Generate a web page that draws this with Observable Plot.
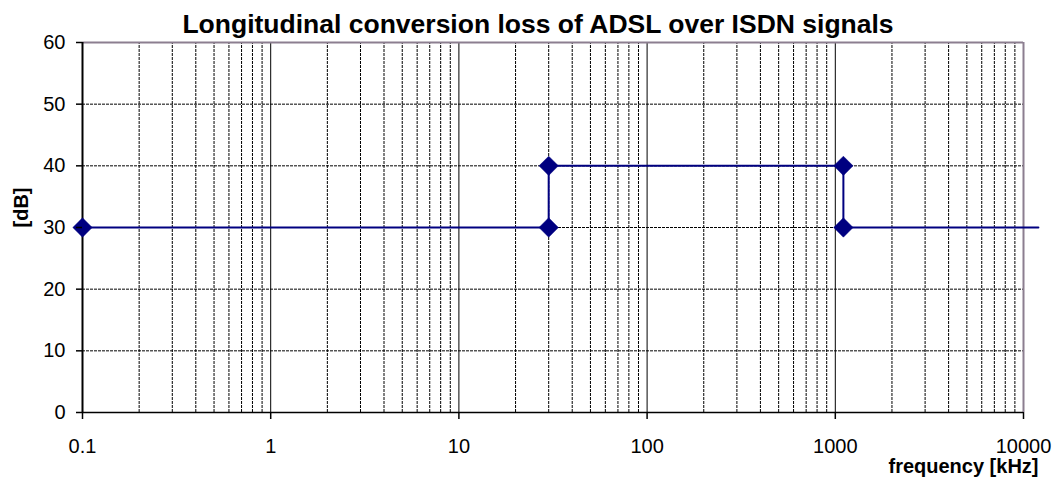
<!DOCTYPE html>
<html>
<head>
<meta charset="utf-8">
<script src="https://cdn.jsdelivr.net/npm/d3@7"></script>
<script src="https://cdn.jsdelivr.net/npm/@observablehq/plot@0.6"></script>
<style>
  html, body { margin: 0; padding: 0; background: #fff; }
  #chart svg { display: block; overflow: visible; }
</style>
</head>
<body>
<div id="chart"></div>
<script>
// ---- data ----
const title = "Longitudinal conversion loss of ADSL over ISDN signals";
const yLabel = "[dB]";
const xLabel = "frequency [kHz]";
const freq = [0.1, 30, 30, 1104, 1104, 12000];
const loss = [30, 30, 40, 40, 30, 30];
const hasMarker = [true, true, true, true, true, false];
const xTicks = [0.1, 1, 10, 100, 1000, 10000];
const xTickLabels = ["0.1", "1", "10", "100", "1000", "10000"];
const yTicks = [0, 10, 20, 30, 40, 50, 60];

const pts = freq.map((f, i) => ({f, v: loss[i], m: hasMarker[i]}));
const decades = xTicks.slice(0, -1);
const minor = [];
for (const d of decades) for (let k = 2; k <= 9; k++) minor.push(+(d * k).toPrecision(6));
const innerMajor = xTicks.slice(1, -1);
const hGrid = yTicks.slice(1, -1);

const navy = "#000080";
const border = "#8c7e90";

const chart = Plot.plot({
  width: 1059,
  height: 478,
  marginLeft: 82,
  marginRight: 36,
  marginTop: 42,
  marginBottom: 66,
  style: {fontFamily: "'Liberation Sans', Arial, sans-serif", fontSize: "20px", background: "#fff", color: "#000"},
  x: {type: "log", domain: [0.1, 10000]},
  y: {domain: [0, 60]},
  marks: [
    Plot.ruleX(minor, {y1: 0, y2: 60, stroke: "#000", strokeWidth: 1, strokeDasharray: "3,1"}),
    Plot.ruleX(innerMajor, {y1: 0, y2: 60, stroke: "#000", strokeWidth: 1}),
    Plot.ruleY(hGrid, {x1: 0.1, x2: 10000, stroke: "#000", strokeWidth: 1, strokeDasharray: "3,1"}),
    Plot.ruleY([60], {x1: 0.1, x2: 10000, stroke: border, strokeWidth: 2}),
    Plot.ruleX([10000], {y1: 0, y2: 60, stroke: border, strokeWidth: 2}),
    Plot.ruleX([0.1], {y1: 0, y2: 60, stroke: "#000", strokeWidth: 2}),
    Plot.ruleY([0], {x1: 0.1, x2: 10000, stroke: "#000", strokeWidth: 1.5}),
    Plot.line(pts, {x: "f", y: "v", stroke: navy, strokeWidth: 2}),
    Plot.dot(pts.filter(d => d.m), {x: "f", y: "v", symbol: "diamond2", r: 8.7, fill: navy, stroke: navy, strokeWidth: 0.5}),
    Plot.axisX({ticks: xTicks, tickFormat: d => xTickLabels[xTicks.indexOf(d)], tickSize: 7, tickPadding: 19, fontSize: 20, strokeWidth: 1.5, label: null}),
    Plot.axisY({ticks: yTicks, tickSize: 6, tickPadding: 11, fontSize: 20, strokeWidth: 1.5, label: null}),
    Plot.text([title], {frameAnchor: "top", dx: -15, dy: -18, fontSize: 26.5, fontWeight: "bold", lineAnchor: "middle"}),
    Plot.text([yLabel], {frameAnchor: "left", dx: -61, rotate: -90, fontSize: 20, fontWeight: "bold"}),
    Plot.text([xLabel], {frameAnchor: "bottom-right", dx: 15, dy: 60, textAnchor: "end", fontSize: 20, fontWeight: "bold"})
  ]
});
document.getElementById("chart").appendChild(chart);
</script>
</body>
</html>
